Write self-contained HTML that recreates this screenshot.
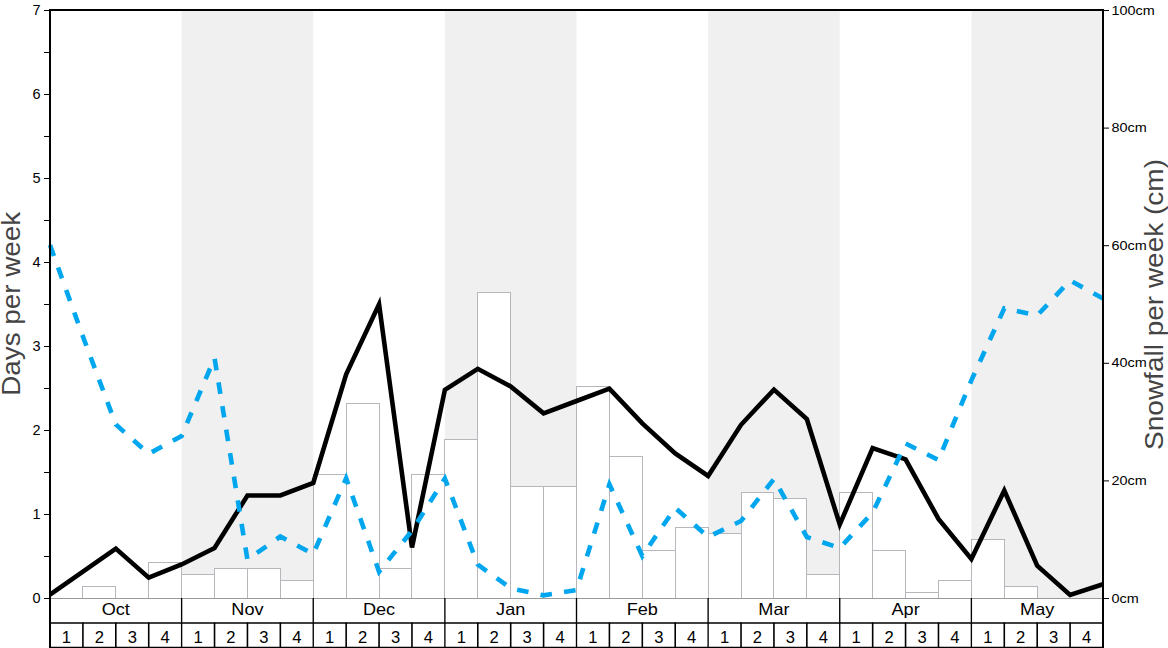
<!DOCTYPE html><html><head><meta charset="utf-8"><style>html,body{margin:0;padding:0;background:#fff;width:1168px;height:648px;overflow:hidden}svg{display:block}text{font-family:"Liberation Sans",sans-serif}</style></head><body>
<svg width="1168" height="648" viewBox="0 0 1168 648">
<rect x="181.62" y="10.0" width="131.62" height="588.0" fill="#f0f0f0"/>
<rect x="444.88" y="10.0" width="131.62" height="588.0" fill="#f0f0f0"/>
<rect x="708.12" y="10.0" width="131.62" height="588.0" fill="#f0f0f0"/>
<rect x="971.38" y="10.0" width="131.62" height="588.0" fill="#f0f0f0"/>
<rect x="82.50" y="586.50" width="33.00" height="12.00" fill="#fff" stroke="#b6b6bc" stroke-width="1"/>
<rect x="148.50" y="562.50" width="33.00" height="36.00" fill="#fff" stroke="#b6b6bc" stroke-width="1"/>
<rect x="181.50" y="574.50" width="33.00" height="24.00" fill="#fff" stroke="#b6b6bc" stroke-width="1"/>
<rect x="214.50" y="568.50" width="33.00" height="30.00" fill="#fff" stroke="#b6b6bc" stroke-width="1"/>
<rect x="247.50" y="568.50" width="33.00" height="30.00" fill="#fff" stroke="#b6b6bc" stroke-width="1"/>
<rect x="280.50" y="580.50" width="33.00" height="18.00" fill="#fff" stroke="#b6b6bc" stroke-width="1"/>
<rect x="313.50" y="474.50" width="33.00" height="124.00" fill="#fff" stroke="#b6b6bc" stroke-width="1"/>
<rect x="346.50" y="403.50" width="33.00" height="195.00" fill="#fff" stroke="#b6b6bc" stroke-width="1"/>
<rect x="379.50" y="568.50" width="32.00" height="30.00" fill="#fff" stroke="#b6b6bc" stroke-width="1"/>
<rect x="411.50" y="474.50" width="33.00" height="124.00" fill="#fff" stroke="#b6b6bc" stroke-width="1"/>
<rect x="444.50" y="439.50" width="33.00" height="159.00" fill="#fff" stroke="#b6b6bc" stroke-width="1"/>
<rect x="477.50" y="292.50" width="33.00" height="306.00" fill="#fff" stroke="#b6b6bc" stroke-width="1"/>
<rect x="510.50" y="486.50" width="33.00" height="112.00" fill="#fff" stroke="#b6b6bc" stroke-width="1"/>
<rect x="543.50" y="486.50" width="33.00" height="112.00" fill="#fff" stroke="#b6b6bc" stroke-width="1"/>
<rect x="576.50" y="386.50" width="33.00" height="212.00" fill="#fff" stroke="#b6b6bc" stroke-width="1"/>
<rect x="609.50" y="456.50" width="33.00" height="142.00" fill="#fff" stroke="#b6b6bc" stroke-width="1"/>
<rect x="642.50" y="550.50" width="33.00" height="48.00" fill="#fff" stroke="#b6b6bc" stroke-width="1"/>
<rect x="675.50" y="527.50" width="33.00" height="71.00" fill="#fff" stroke="#b6b6bc" stroke-width="1"/>
<rect x="708.50" y="533.50" width="33.00" height="65.00" fill="#fff" stroke="#b6b6bc" stroke-width="1"/>
<rect x="741.50" y="492.50" width="32.00" height="106.00" fill="#fff" stroke="#b6b6bc" stroke-width="1"/>
<rect x="773.50" y="498.50" width="33.00" height="100.00" fill="#fff" stroke="#b6b6bc" stroke-width="1"/>
<rect x="806.50" y="574.50" width="33.00" height="24.00" fill="#fff" stroke="#b6b6bc" stroke-width="1"/>
<rect x="839.50" y="492.50" width="33.00" height="106.00" fill="#fff" stroke="#b6b6bc" stroke-width="1"/>
<rect x="872.50" y="550.50" width="33.00" height="48.00" fill="#fff" stroke="#b6b6bc" stroke-width="1"/>
<rect x="905.50" y="592.50" width="33.00" height="6.00" fill="#fff" stroke="#b6b6bc" stroke-width="1"/>
<rect x="938.50" y="580.50" width="33.00" height="18.00" fill="#fff" stroke="#b6b6bc" stroke-width="1"/>
<rect x="971.50" y="539.50" width="33.00" height="59.00" fill="#fff" stroke="#b6b6bc" stroke-width="1"/>
<rect x="1004.50" y="586.50" width="33.00" height="12.00" fill="#fff" stroke="#b6b6bc" stroke-width="1"/>
<line x1="50.0" y1="598.5" x2="1103.0" y2="598.5" stroke="#999" stroke-width="1"/>
<polyline points="50.00,594.70 82.91,571.70 115.81,548.60 148.72,577.70 181.62,564.50 214.53,548.00 247.44,495.50 280.34,495.50 313.25,483.00 346.16,374.30 379.06,304.20 411.97,547.50 444.88,389.80 477.78,368.80 510.69,386.40 543.59,413.30 576.50,401.00 609.41,388.60 642.31,423.40 675.22,453.50 708.12,476.00 741.03,424.80 773.94,389.60 806.84,419.00 839.75,524.50 872.66,448.00 905.56,459.30 938.47,518.90 971.38,559.00 1004.28,490.50 1037.19,565.70 1070.09,595.00 1103.00,584.30" fill="none" stroke="#000" stroke-width="4.6" stroke-linejoin="miter"/>
<polyline points="50.00,245.00 82.91,336.50 115.81,424.50 148.72,453.80 181.62,436.00 214.53,358.00 247.44,559.60 280.34,536.50 313.25,554.00 346.16,478.20 379.06,571.80 411.97,530.70 444.88,478.50 477.78,564.60 510.69,588.30 543.59,595.30 576.50,590.00 609.41,484.30 642.31,556.00 675.22,507.80 708.12,537.00 741.03,521.00 773.94,479.00 806.84,537.00 839.75,548.00 872.66,512.60 905.56,443.50 938.47,460.00 971.38,380.30 1004.28,308.30 1037.19,315.50 1070.09,280.50 1103.00,298.50" fill="none" stroke="#00a6ee" stroke-width="4.6" stroke-dasharray="11.6,12.28" stroke-linejoin="miter"/>
<line x1="49.0" y1="10.0" x2="1104.0" y2="10.0" stroke="#000" stroke-width="2"/>
<line x1="50.0" y1="9.0" x2="50.0" y2="648" stroke="#000" stroke-width="2"/>
<line x1="1103.0" y1="9.0" x2="1103.0" y2="648" stroke="#000" stroke-width="2"/>
<line x1="44" y1="598.50" x2="50.0" y2="598.50" stroke="#000" stroke-width="1"/>
<text x="40.6" y="602.90" font-size="14.5" text-anchor="end" fill="#000">0</text>
<line x1="44" y1="556.50" x2="50.0" y2="556.50" stroke="#000" stroke-width="1"/>
<line x1="44" y1="514.50" x2="50.0" y2="514.50" stroke="#000" stroke-width="1"/>
<text x="40.6" y="518.90" font-size="14.5" text-anchor="end" fill="#000">1</text>
<line x1="44" y1="472.50" x2="50.0" y2="472.50" stroke="#000" stroke-width="1"/>
<line x1="44" y1="430.50" x2="50.0" y2="430.50" stroke="#000" stroke-width="1"/>
<text x="40.6" y="434.90" font-size="14.5" text-anchor="end" fill="#000">2</text>
<line x1="44" y1="388.50" x2="50.0" y2="388.50" stroke="#000" stroke-width="1"/>
<line x1="44" y1="346.50" x2="50.0" y2="346.50" stroke="#000" stroke-width="1"/>
<text x="40.6" y="350.90" font-size="14.5" text-anchor="end" fill="#000">3</text>
<line x1="44" y1="304.50" x2="50.0" y2="304.50" stroke="#000" stroke-width="1"/>
<line x1="44" y1="262.50" x2="50.0" y2="262.50" stroke="#000" stroke-width="1"/>
<text x="40.6" y="266.90" font-size="14.5" text-anchor="end" fill="#000">4</text>
<line x1="44" y1="220.50" x2="50.0" y2="220.50" stroke="#000" stroke-width="1"/>
<line x1="44" y1="178.50" x2="50.0" y2="178.50" stroke="#000" stroke-width="1"/>
<text x="40.6" y="182.90" font-size="14.5" text-anchor="end" fill="#000">5</text>
<line x1="44" y1="136.50" x2="50.0" y2="136.50" stroke="#000" stroke-width="1"/>
<line x1="44" y1="94.50" x2="50.0" y2="94.50" stroke="#000" stroke-width="1"/>
<text x="40.6" y="98.90" font-size="14.5" text-anchor="end" fill="#000">6</text>
<line x1="44" y1="52.50" x2="50.0" y2="52.50" stroke="#000" stroke-width="1"/>
<line x1="44" y1="10.50" x2="50.0" y2="10.50" stroke="#000" stroke-width="1"/>
<text x="40.6" y="14.90" font-size="14.5" text-anchor="end" fill="#000">7</text>
<line x1="1103.0" y1="598.50" x2="1109.0" y2="598.50" stroke="#000" stroke-width="1"/>
<text transform="translate(1111.5,602.50) scale(1.12,1)" font-size="12.9" fill="#000">0cm</text>
<line x1="1103.0" y1="480.90" x2="1109.0" y2="480.90" stroke="#000" stroke-width="1"/>
<text transform="translate(1111.5,484.90) scale(1.12,1)" font-size="12.9" fill="#000">20cm</text>
<line x1="1103.0" y1="363.30" x2="1109.0" y2="363.30" stroke="#000" stroke-width="1"/>
<text transform="translate(1111.5,367.30) scale(1.12,1)" font-size="12.9" fill="#000">40cm</text>
<line x1="1103.0" y1="245.70" x2="1109.0" y2="245.70" stroke="#000" stroke-width="1"/>
<text transform="translate(1111.5,249.70) scale(1.12,1)" font-size="12.9" fill="#000">60cm</text>
<line x1="1103.0" y1="128.10" x2="1109.0" y2="128.10" stroke="#000" stroke-width="1"/>
<text transform="translate(1111.5,132.10) scale(1.12,1)" font-size="12.9" fill="#000">80cm</text>
<line x1="1103.0" y1="10.50" x2="1109.0" y2="10.50" stroke="#000" stroke-width="1"/>
<text transform="translate(1111.5,14.50) scale(1.12,1)" font-size="12.9" fill="#000">100cm</text>
<line x1="50.0" y1="623" x2="1103.0" y2="623" stroke="#000" stroke-width="1.7"/>
<line x1="50.0" y1="647.5" x2="1103.0" y2="647.5" stroke="#000" stroke-width="1.4"/>
<line x1="181.62" y1="598.0" x2="181.62" y2="648" stroke="#000" stroke-width="1.35"/>
<line x1="313.25" y1="598.0" x2="313.25" y2="648" stroke="#000" stroke-width="1.35"/>
<line x1="444.88" y1="598.0" x2="444.88" y2="648" stroke="#000" stroke-width="1.35"/>
<line x1="576.50" y1="598.0" x2="576.50" y2="648" stroke="#000" stroke-width="1.35"/>
<line x1="708.12" y1="598.0" x2="708.12" y2="648" stroke="#000" stroke-width="1.35"/>
<line x1="839.75" y1="598.0" x2="839.75" y2="648" stroke="#000" stroke-width="1.35"/>
<line x1="971.38" y1="598.0" x2="971.38" y2="648" stroke="#000" stroke-width="1.35"/>
<line x1="82.91" y1="622.5" x2="82.91" y2="648" stroke="#000" stroke-width="1.6"/>
<line x1="115.81" y1="622.5" x2="115.81" y2="648" stroke="#000" stroke-width="1.6"/>
<line x1="148.72" y1="622.5" x2="148.72" y2="648" stroke="#000" stroke-width="1.6"/>
<line x1="214.53" y1="622.5" x2="214.53" y2="648" stroke="#000" stroke-width="1.6"/>
<line x1="247.44" y1="622.5" x2="247.44" y2="648" stroke="#000" stroke-width="1.6"/>
<line x1="280.34" y1="622.5" x2="280.34" y2="648" stroke="#000" stroke-width="1.6"/>
<line x1="346.16" y1="622.5" x2="346.16" y2="648" stroke="#000" stroke-width="1.6"/>
<line x1="379.06" y1="622.5" x2="379.06" y2="648" stroke="#000" stroke-width="1.6"/>
<line x1="411.97" y1="622.5" x2="411.97" y2="648" stroke="#000" stroke-width="1.6"/>
<line x1="477.78" y1="622.5" x2="477.78" y2="648" stroke="#000" stroke-width="1.6"/>
<line x1="510.69" y1="622.5" x2="510.69" y2="648" stroke="#000" stroke-width="1.6"/>
<line x1="543.59" y1="622.5" x2="543.59" y2="648" stroke="#000" stroke-width="1.6"/>
<line x1="609.41" y1="622.5" x2="609.41" y2="648" stroke="#000" stroke-width="1.6"/>
<line x1="642.31" y1="622.5" x2="642.31" y2="648" stroke="#000" stroke-width="1.6"/>
<line x1="675.22" y1="622.5" x2="675.22" y2="648" stroke="#000" stroke-width="1.6"/>
<line x1="741.03" y1="622.5" x2="741.03" y2="648" stroke="#000" stroke-width="1.6"/>
<line x1="773.94" y1="622.5" x2="773.94" y2="648" stroke="#000" stroke-width="1.6"/>
<line x1="806.84" y1="622.5" x2="806.84" y2="648" stroke="#000" stroke-width="1.6"/>
<line x1="872.66" y1="622.5" x2="872.66" y2="648" stroke="#000" stroke-width="1.6"/>
<line x1="905.56" y1="622.5" x2="905.56" y2="648" stroke="#000" stroke-width="1.6"/>
<line x1="938.47" y1="622.5" x2="938.47" y2="648" stroke="#000" stroke-width="1.6"/>
<line x1="1004.28" y1="622.5" x2="1004.28" y2="648" stroke="#000" stroke-width="1.6"/>
<line x1="1037.19" y1="622.5" x2="1037.19" y2="648" stroke="#000" stroke-width="1.6"/>
<line x1="1070.09" y1="622.5" x2="1070.09" y2="648" stroke="#000" stroke-width="1.6"/>
<text transform="translate(115.81,614.5) scale(1.073,1)" font-size="16.9" text-anchor="middle" fill="#000">Oct</text>
<text transform="translate(247.44,614.5) scale(1.073,1)" font-size="16.9" text-anchor="middle" fill="#000">Nov</text>
<text transform="translate(379.06,614.5) scale(1.073,1)" font-size="16.9" text-anchor="middle" fill="#000">Dec</text>
<text transform="translate(510.69,614.5) scale(1.073,1)" font-size="16.9" text-anchor="middle" fill="#000">Jan</text>
<text transform="translate(642.31,614.5) scale(1.073,1)" font-size="16.9" text-anchor="middle" fill="#000">Feb</text>
<text transform="translate(773.94,614.5) scale(1.073,1)" font-size="16.9" text-anchor="middle" fill="#000">Mar</text>
<text transform="translate(905.56,614.5) scale(1.073,1)" font-size="16.9" text-anchor="middle" fill="#000">Apr</text>
<text transform="translate(1037.19,614.5) scale(1.073,1)" font-size="16.9" text-anchor="middle" fill="#000">May</text>
<text x="66.45" y="642.8" font-size="16.6" text-anchor="middle" fill="#000">1</text>
<text x="99.36" y="642.8" font-size="16.6" text-anchor="middle" fill="#000">2</text>
<text x="132.27" y="642.8" font-size="16.6" text-anchor="middle" fill="#000">3</text>
<text x="165.17" y="642.8" font-size="16.6" text-anchor="middle" fill="#000">4</text>
<text x="198.08" y="642.8" font-size="16.6" text-anchor="middle" fill="#000">1</text>
<text x="230.98" y="642.8" font-size="16.6" text-anchor="middle" fill="#000">2</text>
<text x="263.89" y="642.8" font-size="16.6" text-anchor="middle" fill="#000">3</text>
<text x="296.80" y="642.8" font-size="16.6" text-anchor="middle" fill="#000">4</text>
<text x="329.70" y="642.8" font-size="16.6" text-anchor="middle" fill="#000">1</text>
<text x="362.61" y="642.8" font-size="16.6" text-anchor="middle" fill="#000">2</text>
<text x="395.52" y="642.8" font-size="16.6" text-anchor="middle" fill="#000">3</text>
<text x="428.42" y="642.8" font-size="16.6" text-anchor="middle" fill="#000">4</text>
<text x="461.33" y="642.8" font-size="16.6" text-anchor="middle" fill="#000">1</text>
<text x="494.23" y="642.8" font-size="16.6" text-anchor="middle" fill="#000">2</text>
<text x="527.14" y="642.8" font-size="16.6" text-anchor="middle" fill="#000">3</text>
<text x="560.05" y="642.8" font-size="16.6" text-anchor="middle" fill="#000">4</text>
<text x="592.95" y="642.8" font-size="16.6" text-anchor="middle" fill="#000">1</text>
<text x="625.86" y="642.8" font-size="16.6" text-anchor="middle" fill="#000">2</text>
<text x="658.77" y="642.8" font-size="16.6" text-anchor="middle" fill="#000">3</text>
<text x="691.67" y="642.8" font-size="16.6" text-anchor="middle" fill="#000">4</text>
<text x="724.58" y="642.8" font-size="16.6" text-anchor="middle" fill="#000">1</text>
<text x="757.48" y="642.8" font-size="16.6" text-anchor="middle" fill="#000">2</text>
<text x="790.39" y="642.8" font-size="16.6" text-anchor="middle" fill="#000">3</text>
<text x="823.30" y="642.8" font-size="16.6" text-anchor="middle" fill="#000">4</text>
<text x="856.20" y="642.8" font-size="16.6" text-anchor="middle" fill="#000">1</text>
<text x="889.11" y="642.8" font-size="16.6" text-anchor="middle" fill="#000">2</text>
<text x="922.02" y="642.8" font-size="16.6" text-anchor="middle" fill="#000">3</text>
<text x="954.92" y="642.8" font-size="16.6" text-anchor="middle" fill="#000">4</text>
<text x="987.83" y="642.8" font-size="16.6" text-anchor="middle" fill="#000">1</text>
<text x="1020.73" y="642.8" font-size="16.6" text-anchor="middle" fill="#000">2</text>
<text x="1053.64" y="642.8" font-size="16.6" text-anchor="middle" fill="#000">3</text>
<text x="1086.55" y="642.8" font-size="16.6" text-anchor="middle" fill="#000">4</text>
<text transform="translate(20.0,395.7) rotate(-90) scale(1.112,1)" font-size="25" fill="#444">Days per week</text>
<text transform="translate(1163.3,449.9) rotate(-90) scale(1.12,1)" font-size="25" fill="#444">Snowfall per week (cm)</text>
</svg></body></html>
